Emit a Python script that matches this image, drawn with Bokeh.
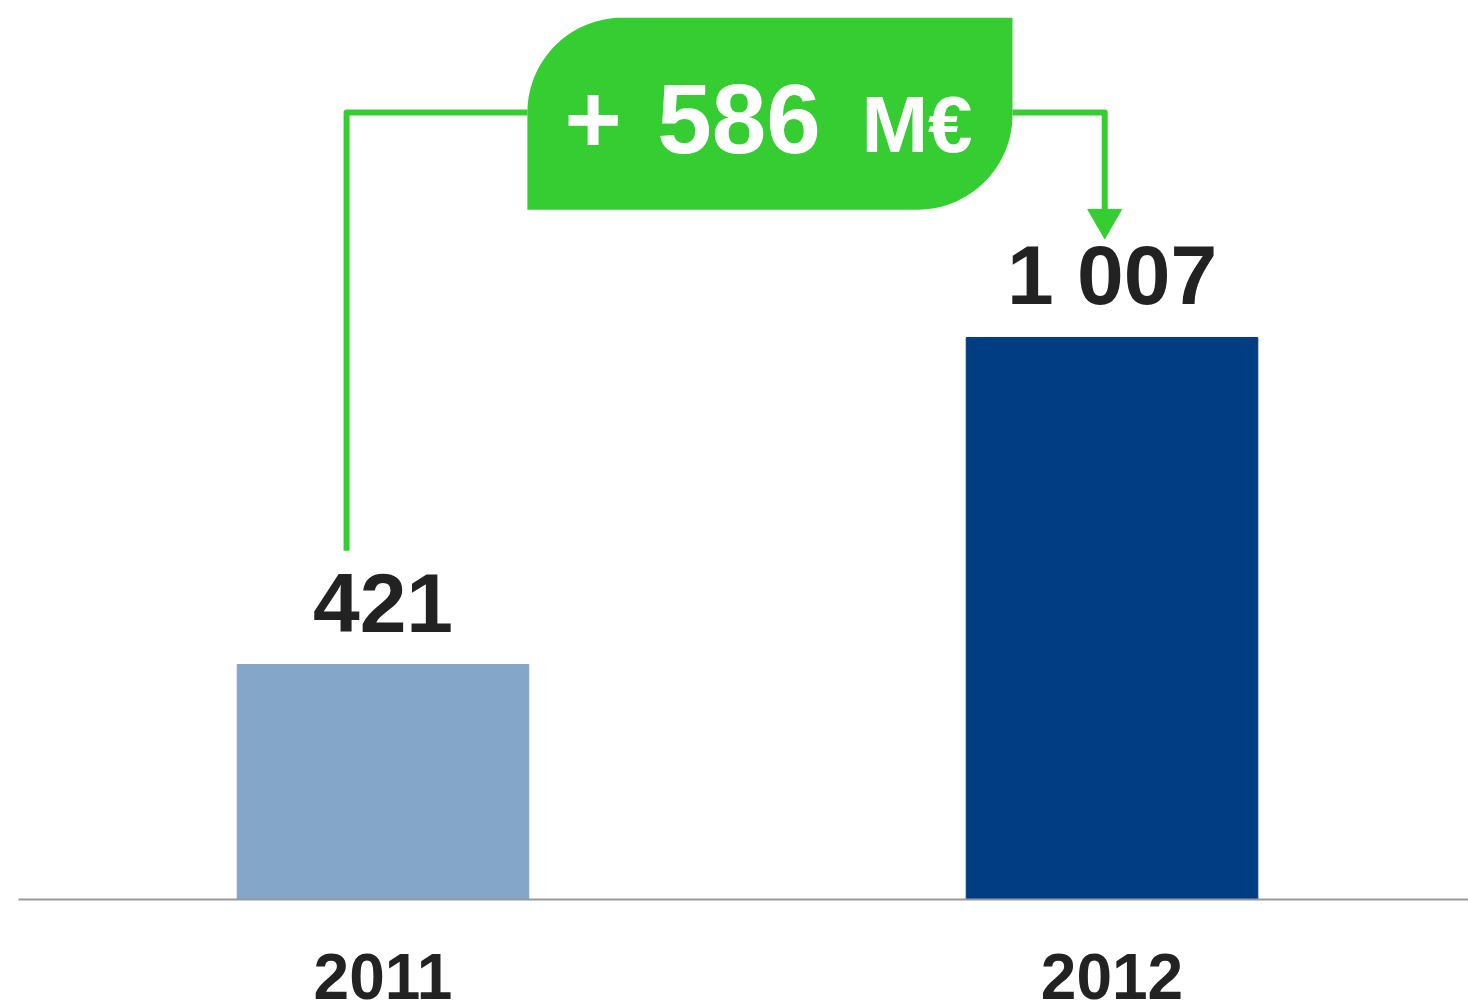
import numpy as np
from bokeh.plotting import figure
from bokeh.models import Range1d, ColumnDataSource
from bokeh.core.properties import value
from bokeh.embed import file_html
from bokeh.resources import INLINE

# ---- data ----
years = ["2011", "2012"]
values = [421, 1007]
bar_colors = ["#84A6C9", "#003D82"]
unit = "M€"

delta = values[1] - values[0]
value_labels = [f"{v:,}".replace(",", " ") for v in values]
xs = list(range(len(years)))

GREEN = "#36CD33"
TEXT = "#222222"
WHITE = "#FFFFFF"
FONT = value("Liberation Sans")

W, H = 1468, 1001
x0, x1 = -0.5247, 1.4890
y0, y1 = -182.8, 1610.8
pxx = W / (x1 - x0)
pxy = H / (y1 - y0)

p = figure(width=W, height=H, x_range=Range1d(x0, x1), y_range=Range1d(y0, y1),
           x_axis_type=None, y_axis_type=None, toolbar_location=None,
           output_backend="svg", min_border=0)
p.outline_line_color = None
p.background_fill_color = WHITE
p.border_fill_color = WHITE

src = ColumnDataSource(dict(x=xs, top=values, base=[0] * len(xs), color=bar_colors,
                            label=value_labels, year=years))

# ---- connector & box (drawn first) ----
left_x = -0.05
right_x = 0.99
conn_y = 1410
box_l, box_r = 0.198, 0.8635
box_b, box_t = 1236, 1580

r = 95.0
rx, ry = r / pxx, r / pxy
t1 = np.linspace(np.pi, np.pi / 2, 30)       # top-left arc
t2 = np.linspace(0, -np.pi / 2, 30)          # bottom-right arc
bx = np.concatenate([[box_l], box_l + rx + rx * np.cos(t1), [box_r],
                     box_r - rx + rx * np.cos(t2)])
by = np.concatenate([[box_b], box_t - ry + ry * np.sin(t1), [box_t],
                     box_b + ry + ry * np.sin(t2)])
bsrc = ColumnDataSource(dict(xs=[bx.tolist()], ys=[by.tolist()]))
p.patches(xs="xs", ys="ys", source=bsrc, fill_color=GREEN, line_color=None)

p.line(x=[left_x, left_x, box_l], y=[values[0] + 204, conn_y, conn_y],
       line_color=GREEN, line_width=6, line_join="round")
p.line(x=[box_r, right_x, right_x], y=[conn_y, conn_y, values[1] + 219],
       line_color=GREEN, line_width=6, line_join="round")
p.scatter(x=[right_x], y=[values[1] + 212], marker="inverted_triangle",
          size=34, fill_color=GREEN, line_color=GREEN)

# bars
p.vbar(x="x", top="top", bottom=0, width=0.4, color="color", source=src)

# baseline
p.segment(x0=[-0.5], y0=[0], x1=[1.5], y1=[0], line_color="#999999", line_width=2)

# value labels
p.text(x="x", y="top", text="label", source=src, text_align="center",
       text_baseline="alphabetic", y_offset=-62, text_font=FONT,
       text_font_style="bold", text_font_size="84px", text_color=TEXT)

# year labels
p.text(x="x", y="base", text="year", source=src, text_align="center",
       text_baseline="alphabetic", y_offset=77, text_font=FONT,
       text_font_style="bold", text_font_size="64px", text_color=TEXT)

# box text, in separate pieces
num_src = ColumnDataSource(dict(x=[0.4883], y=[1338], label=[str(delta)]))
unit_src = ColumnDataSource(dict(x=[0.7325], y=[1338], label=[unit]))
plus_src = ColumnDataSource(dict(x=[0.2881], y=[1338], label=["+"]))
p.text(x="x", y="y", text="label", source=num_src, text_align="center",
       text_baseline="alphabetic", y_offset=-34, text_font=FONT,
       text_font_style="bold", text_font_size="98px", text_color=WHITE)
p.text(x="x", y="y", text="label", source=unit_src, text_align="center",
       text_baseline="alphabetic", y_offset=-28, text_font=FONT,
       text_font_style="bold", text_font_size="80px", text_color=WHITE)
p.text(x="x", y="y", text="label", source=plus_src, text_align="center",
       text_baseline="alphabetic", y_offset=-34, text_font=FONT,
       text_font_style="bold", text_font_size="98px", text_color=WHITE)

open("out.html", "w").write(file_html(p, INLINE))
